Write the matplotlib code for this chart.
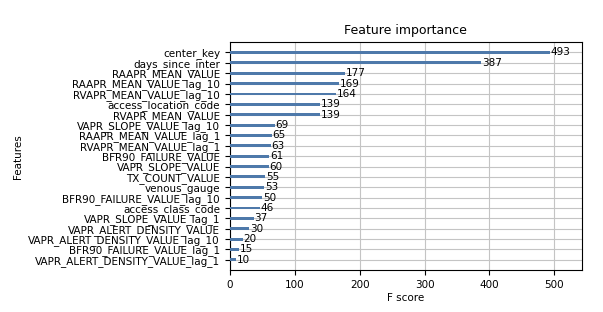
import numpy as np
import matplotlib
matplotlib.use("Agg")
import matplotlib.pyplot as plt

features = [
    "center_key", "days_since_inter", "RAAPR_MEAN_VALUE", "RAAPR_MEAN_VALUE_lag_10",
    "RVAPR_MEAN_VALUE_lag_10", "access_location_code", "RVAPR_MEAN_VALUE",
    "VAPR_SLOPE_VALUE_lag_10", "RAAPR_MEAN_VALUE_lag_1", "RVAPR_MEAN_VALUE_lag_1",
    "BFR90_FAILURE_VALUE", "VAPR_SLOPE_VALUE", "TX_COUNT_VALUE", "venous_gauge",
    "BFR90_FAILURE_VALUE_lag_10", "access_class_code", "VAPR_SLOPE_VALUE_lag_1",
    "VAPR_ALERT_DENSITY_VALUE", "VAPR_ALERT_DENSITY_VALUE_lag_10",
    "BFR90_FAILURE_VALUE_lag_1", "VAPR_ALERT_DENSITY_VALUE_lag_1",
]
scores = [493, 387, 177, 169, 164, 139, 139, 69, 65, 63, 61, 60, 55, 53, 50, 46,
          37, 30, 20, 15, 10]

# xgboost style: smallest at the bottom
labels = features[::-1]
values = scores[::-1]
ylocs = np.arange(len(values))

plt.rcParams['font.size'] = 7.5
fig = plt.figure(figsize=(6.03, 3.12), dpi=100)
ax = fig.add_axes([0.381, 0.134, 0.584, 0.731])

ax.barh(ylocs, values, height=0.28, align='center', color='#4e79aa', zorder=3)
for x, y in zip(values, ylocs):
    ax.text(x + 1, y, x, va='center', fontsize=7.5, zorder=4)

ax.set_yticks(ylocs)
ax.set_yticklabels(labels)
ax.set_xlim(0, max(values) * 1.1)
ax.set_ylim(-1, len(values))
ax.set_xticks([0, 100, 200, 300, 400, 500])
ax.grid(True, color='#c4c4c4', linewidth=0.8, zorder=0)
ax.set_axisbelow(True)

ax.set_title("Feature importance", fontsize=9)
ax.set_xlabel("F score", labelpad=2)
ax.set_ylabel("Features")

fig.savefig("out.png", dpi=100)
